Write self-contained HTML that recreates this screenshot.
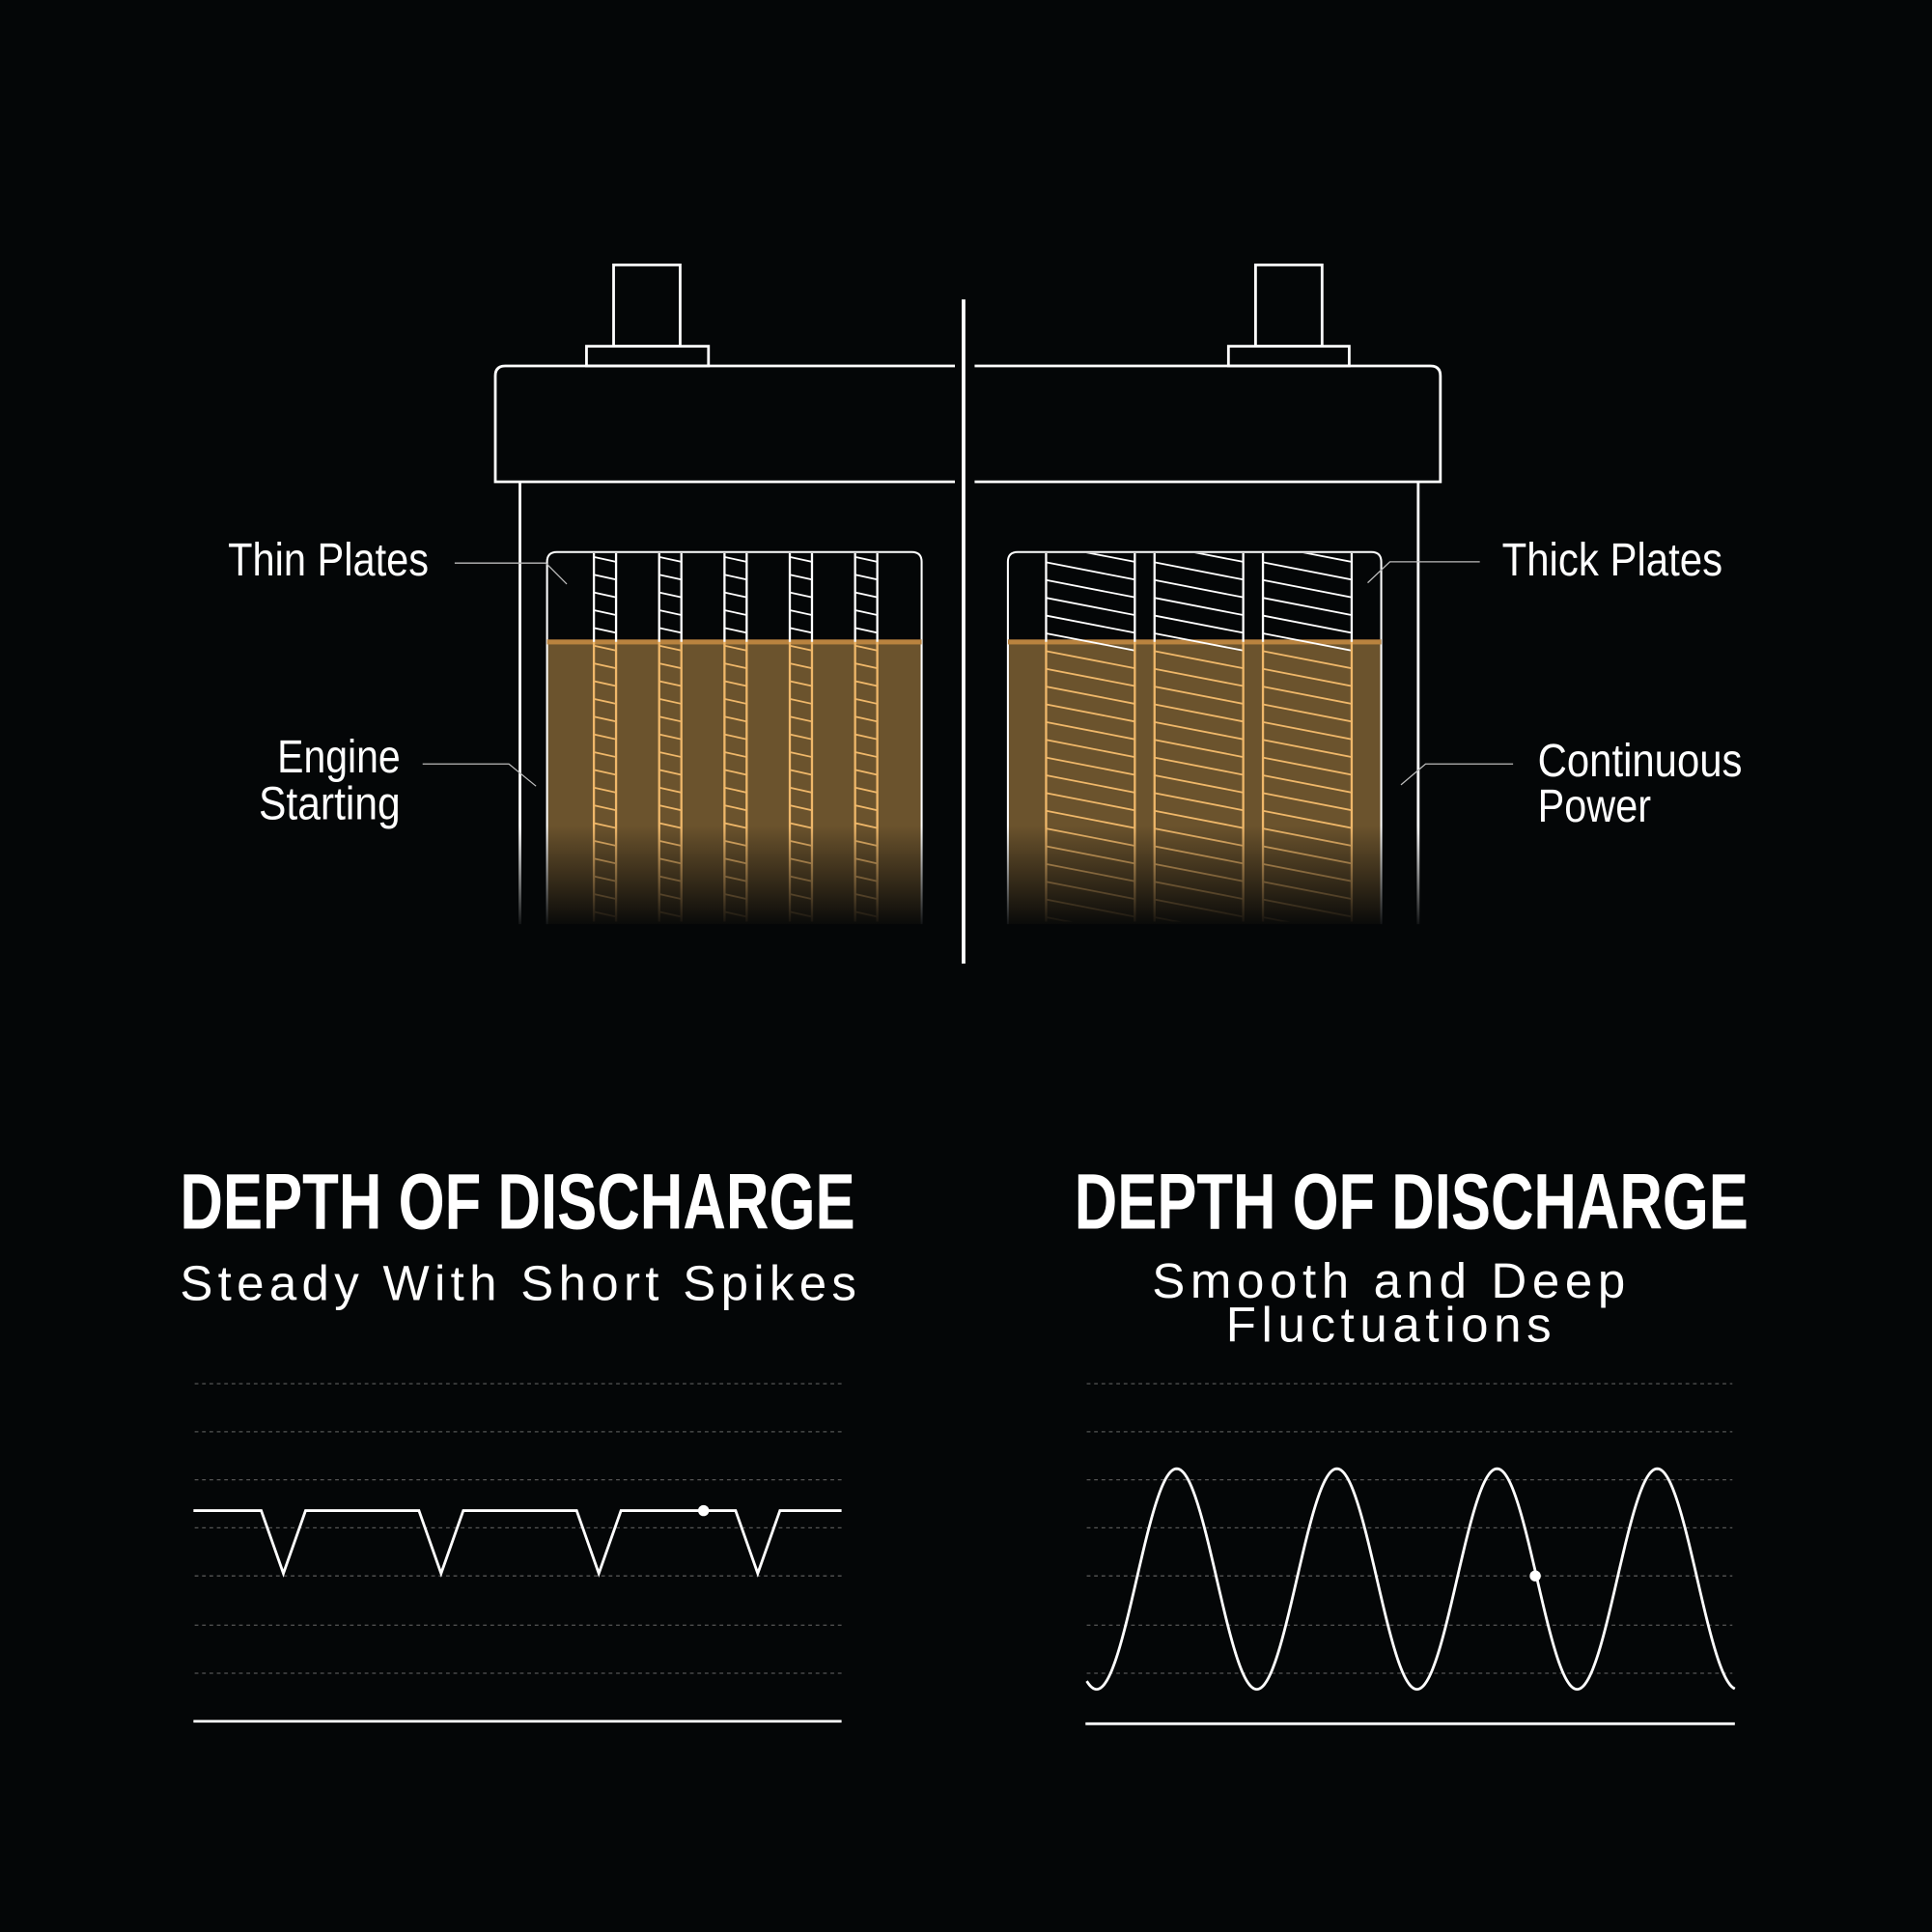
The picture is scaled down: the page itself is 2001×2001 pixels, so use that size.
<!DOCTYPE html>
<html><head><meta charset="utf-8"><style>
html,body{margin:0;padding:0;background:#040607;}
svg{display:block;}
text{font-family:"Liberation Sans",sans-serif;fill:#fff;}
</style></head><body>
<svg id="s" width="2001" height="2001" viewBox="0 0 1568 1568" xmlns="http://www.w3.org/2000/svg">
<defs>
<linearGradient id="fade" x1="0" y1="0" x2="0" y2="1">
<stop offset="0" stop-color="#040607" stop-opacity="0"/>
<stop offset="1" stop-color="#040607" stop-opacity="1"/>
</linearGradient>
<clipPath id="cl"><rect x="400" y="449" width="780" height="299"/></clipPath>
</defs>
<rect width="1568" height="1568" fill="#040607"/>
<g fill="none" stroke="#fff" stroke-width="2.2">
<rect x="498" y="215" width="54" height="66" fill="#040607"/>
<rect x="476" y="281" width="99" height="16" fill="#040607"/>
<path d="M775 297 H410 Q402 297 402 305 V391 H775"/>
<line x1="422" y1="391" x2="422" y2="750"/>
<rect x="444" y="521" width="304" height="229" fill="#6b532d" stroke="none"/>
<path d="M444 750 V456 Q444 448 452 448 H740 Q748 448 748 456 V750" stroke-width="1.6"/>
<rect x="1019" y="215" width="54" height="66" fill="#040607"/>
<rect x="997" y="281" width="98" height="16" fill="#040607"/>
<path d="M791 297 H1161 Q1169 297 1169 305 V391 H791"/>
<line x1="1151" y1="391" x2="1151" y2="750"/>
<rect x="818" y="521" width="303" height="229" fill="#6b532d" stroke="none"/>
<path d="M818 750 V456 Q818 448 826 448 H1113 Q1121 448 1121 456 V750" stroke-width="1.6"/>
</g>
<rect x="444" y="519" width="304" height="4" fill="#b9833f"/>
<rect x="818" y="519" width="303" height="4" fill="#b9833f"/>
<g id="plates" clip-path="url(#cl)"></g>
<rect x="395" y="670" width="780" height="85" fill="url(#fade)"/>
<line x1="782" y1="243" x2="782" y2="782" stroke="#fff" stroke-width="3"/>
<g fill="none" stroke="#bbb" stroke-width="1">
<path d="M369 457 H443 L460 474"/>
<path d="M343 620 H413 L435 638"/>
<path d="M1201 456 H1128 L1110 473"/>
<path d="M1228 620 H1157 L1137 637"/>
</g>
<text x="185" y="467" font-size="38" textLength="163" lengthAdjust="spacingAndGlyphs">Thin Plates</text>
<text x="325" y="627" font-size="38" text-anchor="end" textLength="100" lengthAdjust="spacingAndGlyphs">Engine</text>
<text x="325" y="665" font-size="38" text-anchor="end" textLength="115" lengthAdjust="spacingAndGlyphs">Starting</text>
<text x="1219" y="467" font-size="38" textLength="179" lengthAdjust="spacingAndGlyphs">Thick Plates</text>
<text x="1248" y="630" font-size="38" textLength="166" lengthAdjust="spacingAndGlyphs">Continuous</text>
<text x="1248" y="667" font-size="38" textLength="92" lengthAdjust="spacingAndGlyphs">Power</text>
<text x="146" y="997" font-size="64" font-weight="bold" textLength="548" lengthAdjust="spacingAndGlyphs">DEPTH OF DISCHARGE</text>
<text x="146" y="1055" font-size="40" textLength="549" lengthAdjust="spacing">Steady With Short Spikes</text>
<text x="872" y="997" font-size="64" font-weight="bold" textLength="547" lengthAdjust="spacingAndGlyphs">DEPTH OF DISCHARGE</text>
<text x="935" y="1053" font-size="40" textLength="384" lengthAdjust="spacing">Smooth and Deep</text>
<text x="995" y="1089" font-size="40" textLength="264" lengthAdjust="spacing">Fluctuations</text>
<g id="grid" stroke="#555" stroke-width="1" stroke-dasharray="3 3"></g>
<line x1="157" y1="1397" x2="683" y2="1397" stroke="#fff" stroke-width="2.2"/>
<line x1="881" y1="1399" x2="1408" y2="1399" stroke="#fff" stroke-width="2.2"/>
<polyline fill="none" stroke="#fff" stroke-width="2.2" points="157,1226 212,1226 230,1277 248,1226 340,1226 358,1277 376,1226 468,1226 486,1277 504,1226 597,1226 615,1277 633,1226 683,1226"/>
<circle cx="571" cy="1226" r="4.5" fill="#fff"/>
<path id="sine" fill="none" stroke="#fff" stroke-width="2.2"/>
<circle cx="1246" cy="1279" r="4.5" fill="#fff"/>
</svg>
<script>
var NS="http://www.w3.org/2000/svg";
function el(p,t,a){var e=document.createElementNS(NS,t);for(var k in a)e.setAttribute(k,a[k]);p.appendChild(e);return e;}
var pg=document.getElementById("plates");
function plate(x1,x2,slope){
  for(var y=456-slope;y<750;y+=14.4){
    var c=(y+slope/2)>521?"#f0b86a":"#fff";
    el(pg,"line",{x1:x1,y1:y,x2:x2,y2:y+slope,stroke:c,"stroke-width":1.4});
  }
  [x1,x2].forEach(function(x){
    el(pg,"line",{x1:x,y1:448,x2:x,y2:521,stroke:"#fff","stroke-width":1.8});
    el(pg,"line",{x1:x,y1:521,x2:x,y2:750,stroke:"#f0b86a","stroke-width":1.8});
  });
}
[482,535,588,641,694].forEach(function(x){plate(x,x+18,4);});
[849,937,1025].forEach(function(x){plate(x,x+72,14);});
var g=document.getElementById("grid");
[1123,1162,1201,1240,1279,1319,1358].forEach(function(y){
  el(g,"line",{x1:158,y1:y,x2:683,y2:y});
  el(g,"line",{x1:882,y1:y,x2:1406,y2:y});
});
var d="";
for(var x=882;x<=1408;x+=1){
  var y=1281.5-89.5*Math.cos((x-955)*2*Math.PI/130);
  d+=(x==882?"M":"L")+x+" "+y.toFixed(2);
}
document.getElementById("sine").setAttribute("d",d);
</script>
</body></html>
